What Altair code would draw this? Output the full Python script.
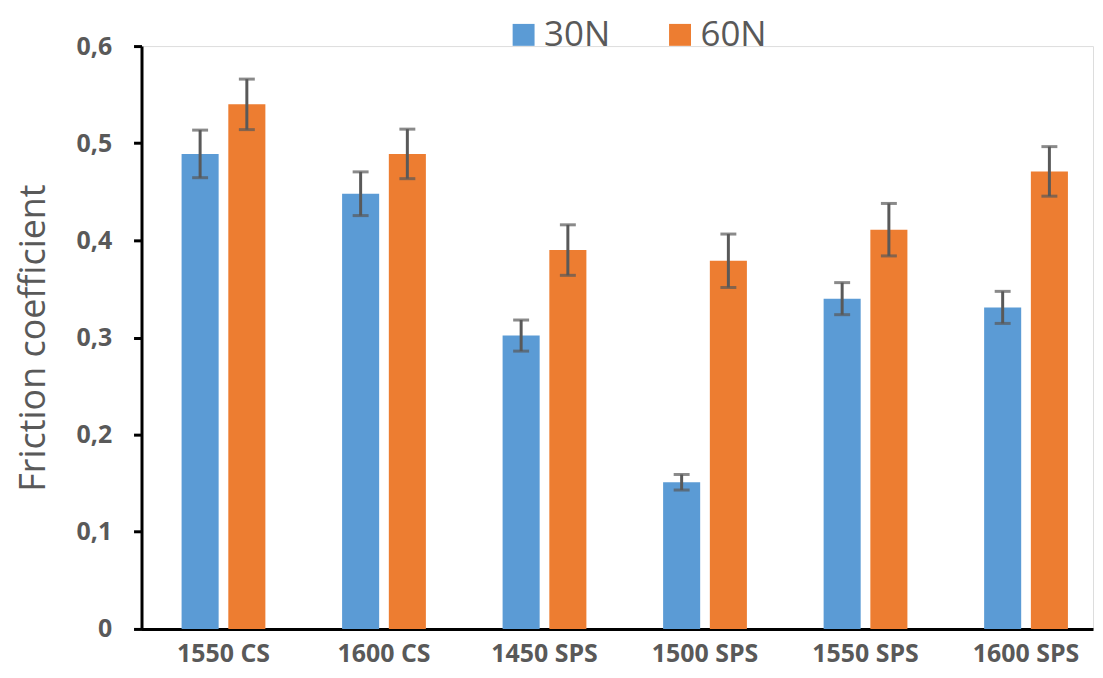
import altair as alt
import pandas as pd

categories = ["1550 CS", "1600 CS", "1450 SPS", "1500 SPS", "1550 SPS", "1600 SPS"]
series = ["30N", "60N"]
vals_30 = [0.489, 0.448, 0.302, 0.151, 0.340, 0.331]
err_30 = [0.0245, 0.0225, 0.016, 0.008, 0.0165, 0.0165]
vals_60 = [0.540, 0.489, 0.390, 0.379, 0.411, 0.471]
err_60 = [0.026, 0.0255, 0.026, 0.0275, 0.027, 0.0255]

rows = []
for i, c in enumerate(categories):
    rows.append({"cat": c, "load": "30N", "v": vals_30[i], "lo": vals_30[i] - err_30[i], "hi": vals_30[i] + err_30[i]})
    rows.append({"cat": c, "load": "60N", "v": vals_60[i], "lo": vals_60[i] - err_60[i], "hi": vals_60[i] + err_60[i]})
df = pd.DataFrame(rows)

FONT = "Open Sans"
GREY = "#595959"

xscale = alt.Scale(paddingInner=0.478, paddingOuter=0.203, align=0.615)
xenc = alt.X("cat:N", sort=categories, title=None, scale=xscale,
             axis=alt.Axis(labelAngle=0, labelFont=FONT, labelFontSize=25, labelFontWeight="bold",
                           labelColor=GREY, labelPadding=13, ticks=False,
                           domainColor="#000000", domainWidth=3))
xoff = alt.XOffset("load:N", sort=series, scale=alt.Scale(paddingInner=0.207, paddingOuter=0))
yscale = alt.Scale(domain=[0, 0.6], nice=False)

bars = alt.Chart(df).mark_bar().encode(
    x=xenc,
    xOffset=xoff,
    y=alt.Y("v:Q", scale=yscale, title="Friction coefficient",
            axis=alt.Axis(values=[0, 0.1, 0.2, 0.3, 0.4, 0.5, 0.6], grid=False,
                          labelExpr="datum.value == 0 ? '0' : replace(format(datum.value, '.1f'), '.', ',')",
                          labelFont=FONT, labelFontSize=25, labelFontWeight="bold", labelColor=GREY,
                          labelPadding=22, tickSize=8, tickWidth=3, tickColor="#000000",
                          domainColor="#000000", domainWidth=3,
                          titleFont=FONT, titleFontSize=36, titleFontWeight="normal", titleColor=GREY,
                          titlePadding=24)),
    color=alt.Color("load:N", sort=series,
                    scale=alt.Scale(domain=series, range=["#5B9BD5", "#ED7D31"]),
                    legend=alt.Legend(title=None, orient="none", direction="horizontal",
                                      legendX=366, legendY=-29, padding=0,
                                      symbolType="square", symbolSize=484,
                                      symbolStrokeWidth=0, labelFont=FONT, labelFontSize=35,
                                      labelColor=GREY, labelOffset=3, columnPadding=52)),
)

rules = alt.Chart(df).mark_rule(color=GREY, strokeWidth=3).encode(
    x=alt.X("cat:N", sort=categories, scale=xscale),
    xOffset=xoff,
    y=alt.Y("lo:Q", scale=yscale),
    y2="hi:Q",
)

caps_hi = alt.Chart(df).mark_tick(color=GREY, thickness=3, size=16, orient="horizontal").encode(
    x=alt.X("cat:N", sort=categories, scale=xscale),
    xOffset=xoff,
    y=alt.Y("hi:Q", scale=yscale),
)
caps_lo = alt.Chart(df).mark_tick(color=GREY, thickness=3, size=16, orient="horizontal").encode(
    x=alt.X("cat:N", sort=categories, scale=xscale),
    xOffset=xoff,
    y=alt.Y("lo:Q", scale=yscale),
)

chart = alt.layer(bars, rules, caps_hi, caps_lo).properties(
    width=955, height=585,
    autosize=alt.AutoSizeParams(type="none"),
    padding={"left": 134, "top": 37, "right": 2, "bottom": 40},
).configure_view(stroke=None).configure(background="white")

chart.save("out.html", embed_options={"renderer": "svg", "actions": False})
